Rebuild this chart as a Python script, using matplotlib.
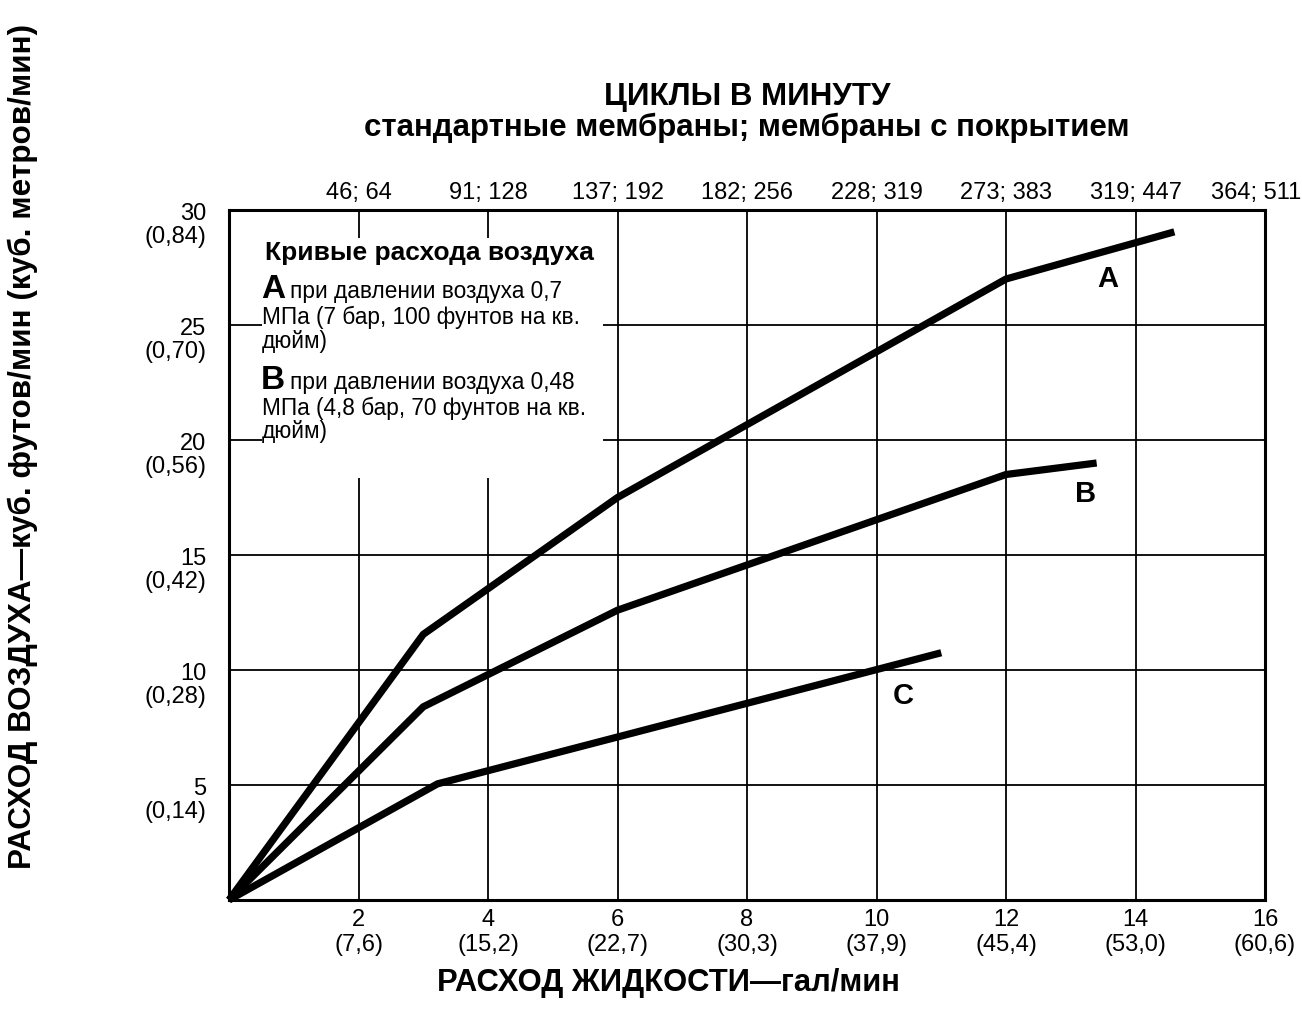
import matplotlib
matplotlib.use("Agg")
import matplotlib.pyplot as plt
from matplotlib.patches import Rectangle

plt.rcParams['font.family'] = ['Liberation Sans', 'DejaVu Sans']

# liquid flow, gal/min -> air consumption, scfm
a_x = [0, 3, 6, 12, 14.6]
a_y = [0, 11.55, 17.5, 27.0, 29.05]
b_x = [0, 3, 6, 12, 13.4]
b_y = [0, 8.4, 12.6, 18.5, 19.0]
c_x = [0, 3.22, 11.0]
c_y = [0, 5.05, 10.75]

x_ticks = [2, 4, 6, 8, 10, 12, 14, 16]
x_metric = ['(7,6)', '(15,2)', '(22,7)', '(30,3)', '(37,9)', '(45,4)', '(53,0)', '(60,6)']
top_labels = ['46; 64', '91; 128', '137; 192', '182; 256', '228; 319', '273; 383', '319; 447', '364; 511']
y_ticks = [5, 10, 15, 20, 25, 30]
y_metric = ['(0,14)', '(0,28)', '(0,42)', '(0,56)', '(0,70)', '(0,84)']

fig = plt.figure(figsize=(13.02, 10.18), dpi=100)
ax = fig.add_axes([229/1302, 1-900/1018, 1036/1302, 690/1018])
ax.set_xlim(0, 16)
ax.set_ylim(0, 30)

for s in ax.spines.values():
    s.set_linewidth(2.2)

ax.set_xticks(x_ticks[:-1])
ax.set_yticks(y_ticks[:-1])
ax.grid(True, color='black', linewidth=1.3)
ax.tick_params(length=0, labelbottom=False, labelleft=False)

tfs = 17
# bottom tick labels (two lines)
for v, m in zip(x_ticks, x_metric):
    ax.annotate(str(v), xy=(v, 0), xycoords=('data', 'axes fraction'),
                xytext=(0, -14.5), textcoords='offset points', ha='center', va='center',
                fontsize=tfs)
    ax.annotate(m, xy=(v, 0), xycoords=('data', 'axes fraction'),
                xytext=(0, -32.5), textcoords='offset points', ha='center', va='center',
                fontsize=tfs)
# left tick labels
for v, m in zip(y_ticks, y_metric):
    ax.annotate(str(v), xy=(0, v), xycoords=('axes fraction', 'data'),
                xytext=(-16.5, -3), textcoords='offset points', ha='right', va='center',
                fontsize=tfs)
    ax.annotate(m, xy=(0, v), xycoords=('axes fraction', 'data'),
                xytext=(-16.5, -19.5), textcoords='offset points', ha='right', va='center',
                fontsize=tfs)
# top labels
for i, (v, t) in enumerate(zip(x_ticks, top_labels)):
    dx = -6.5 if i == len(x_ticks) - 1 else 0
    ax.annotate(t, xy=(v, 1), xycoords=('data', 'axes fraction'),
                xytext=(dx, 12), textcoords='offset points', ha='center', va='center',
                fontsize=tfs, annotation_clip=False)

# legend box
ax.add_patch(Rectangle((0.032, 0.612), 0.329, 0.348, transform=ax.transAxes,
                       facecolor='white', edgecolor='none', zorder=2.5))
lfs = 16.3
ax.text(0.0347, 0.9377, 'Кривые расхода воздуха', transform=ax.transAxes,
        fontsize=19, fontweight='bold', va='center', zorder=3)
ax.text(0.0310, 0.8850, 'А', transform=ax.transAxes, fontsize=24, fontweight='bold',
        va='center', zorder=3)
ax.text(0.0589, 0.8826, 'при давлении воздуха 0,7', transform=ax.transAxes, fontsize=lfs,
        va='center', zorder=3)
ax.text(0.0319, 0.8449, 'МПа (7 бар, 100 фунтов на кв.', transform=ax.transAxes, fontsize=lfs,
        va='center', zorder=3)
ax.text(0.0319, 0.8101, 'дюйм)', transform=ax.transAxes, fontsize=lfs, va='center', zorder=3)
ax.text(0.0310, 0.7531, 'В', transform=ax.transAxes, fontsize=24, fontweight='bold',
        va='center', zorder=3)
ax.text(0.0589, 0.7507, 'при давлении воздуха 0,48', transform=ax.transAxes, fontsize=lfs,
        va='center', zorder=3)
ax.text(0.0319, 0.7130, 'МПа (4,8 бар, 70 фунтов на кв.', transform=ax.transAxes, fontsize=lfs,
        va='center', zorder=3)
ax.text(0.0319, 0.6783, 'дюйм)', transform=ax.transAxes, fontsize=lfs, va='center', zorder=3)

for xs, ys in [(a_x, a_y), (b_x, b_y), (c_x, c_y)]:
    ax.plot(xs, ys, color='black', linewidth=5.2, solid_capstyle='butt', zorder=4, clip_on=False)

ax.text(13.57, 27.0, 'A', fontsize=21, fontweight='bold', ha='center', va='center')
ax.text(13.23, 17.65, 'B', fontsize=21, fontweight='bold', ha='center', va='center')
ax.text(10.42, 8.87, 'C', fontsize=21, fontweight='bold', ha='center', va='center')

fig.text(747/1302, 1-97/1018, 'ЦИКЛЫ В МИНУТУ', fontsize=22.5, fontweight='bold',
         ha='center', va='center')
fig.text(747/1302, 1-128/1018, 'стандартные мембраны; мембраны с покрытием', fontsize=22.5,
         fontweight='bold', ha='center', va='center')
fig.text(668/1302, 1-983/1018, 'РАСХОД ЖИДКОСТИ—гал/мин', fontsize=22.3, fontweight='bold',
         ha='center', va='center')
fig.text(23/1302, 1-446/1018, 'РАСХОД ВОЗДУХА—куб. футов/мин (куб. метров/мин)', fontsize=22.7,
         fontweight='bold', ha='center', va='center', rotation=90)

fig.savefig('out.png', dpi=100)
